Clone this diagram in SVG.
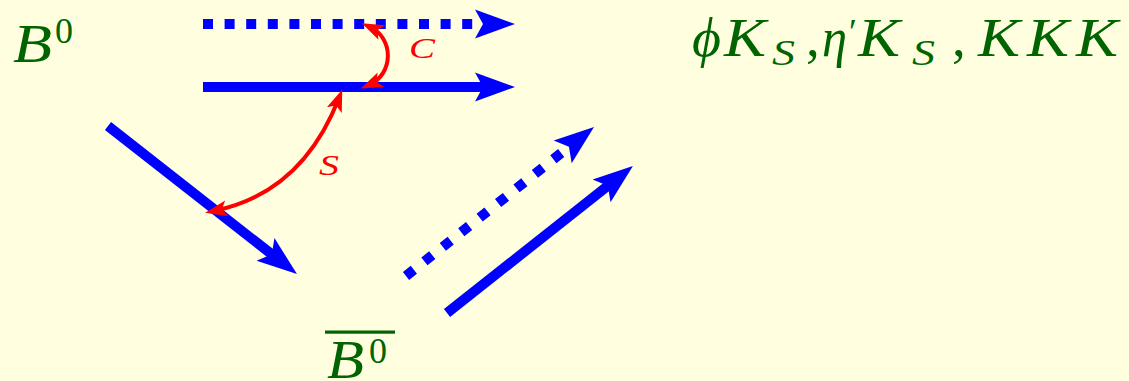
<svg xmlns="http://www.w3.org/2000/svg" width="1129" height="381" viewBox="0 0 1129 381">
<style>
.bl{stroke:#0000ff;stroke-width:10;fill:none;stroke-linecap:butt;marker-end:url(#ab)}
.dot{stroke-dasharray:10 11.6}
.dot2{stroke-dasharray:10 13.5}
.rd{stroke:#ff0000;stroke-width:4;fill:none;marker-start:url(#ar);marker-end:url(#ar)}
.m{font-family:"Liberation Serif","DejaVu Serif",serif;font-style:italic;fill:#006400}
.u{font-family:"Liberation Serif","DejaVu Serif",serif;fill:#006400}
.lab{font-family:"Liberation Serif","DejaVu Serif",serif;font-style:italic;fill:#ff0000;font-size:30px}
</style>
<defs>
<marker id="ab" viewBox="0 -16 44 32" markerWidth="44" markerHeight="32" refX="16" refY="0" orient="auto" markerUnits="userSpaceOnUse">
<path d="M0,-14.5 L40,0 L0,14.5 L8,0 Z" fill="#0000ff"/>
</marker>
<marker id="ar" viewBox="0 -10 26 20" markerWidth="26" markerHeight="20" refX="13" refY="0" orient="auto-start-reverse" markerUnits="userSpaceOnUse">
<path d="M0,-8 L22,0 L0,8 L5,0 Z" fill="#ff0000"/>
</marker>
</defs>
<rect width="1129" height="381" fill="#ffffe0"/>
<g id="connectors">
<line class="bl dot" x1="203" y1="24" x2="491" y2="24"/>
<line class="bl" x1="203" y1="87" x2="491" y2="87"/>
<line class="bl" x1="108" y1="126" x2="278.1" y2="259.3"/>
<line class="bl dot2" x1="406" y1="276" x2="575.2" y2="141.9"/>
<line class="bl" x1="447" y1="313" x2="614.1" y2="180.9"/>
<path class="rd" d="M370,27 C394,38 394,74 369,85"/>
<path class="rd" d="M339,98 Q302,193 214,211"/>
<text class="lab" x="409" y="58" textLength="26" lengthAdjust="spacingAndGlyphs">C</text>
<text class="lab" x="319" y="175" textLength="20" lengthAdjust="spacingAndGlyphs">S</text>
</g>
<g id="B0">
<text class="m" x="13" y="62" font-size="55" textLength="39" lengthAdjust="spacingAndGlyphs">B</text>
<text class="u" x="55" y="43" font-size="36">0</text>
</g>
<g id="B0bar">
<rect x="325" y="330.5" width="70" height="3.2" fill="#006400"/>
<text class="m" x="327" y="378" font-size="55" textLength="37" lengthAdjust="spacingAndGlyphs">B</text>
<text class="u" x="369" y="363" font-size="36">0</text>
</g>
<g id="final-states">
<text class="m" x="692" y="56" font-size="55" textLength="29" lengthAdjust="spacingAndGlyphs">ϕ</text>
<text class="m" x="724" y="56" font-size="55" textLength="42" lengthAdjust="spacingAndGlyphs">K</text>
<text class="m" x="772" y="65" font-size="36" textLength="23" lengthAdjust="spacingAndGlyphs">S</text>
<text class="u" x="806" y="56" font-size="55">,</text>
<text class="m" x="822" y="56" font-size="55" textLength="25" lengthAdjust="spacingAndGlyphs">η</text>
<text class="u" x="849" y="44" font-size="36">′</text>
<text class="m" x="858" y="56" font-size="55" textLength="42" lengthAdjust="spacingAndGlyphs">K</text>
<text class="m" x="912" y="65" font-size="36" textLength="23" lengthAdjust="spacingAndGlyphs">S</text>
<text class="u" x="952" y="56" font-size="55">,</text>
<text class="m" x="978" y="56" font-size="55" textLength="42" lengthAdjust="spacingAndGlyphs">K</text>
<text class="m" x="1027" y="56" font-size="55" textLength="42" lengthAdjust="spacingAndGlyphs">K</text>
<text class="m" x="1076" y="56" font-size="55" textLength="42" lengthAdjust="spacingAndGlyphs">K</text>
</g>
</svg>
